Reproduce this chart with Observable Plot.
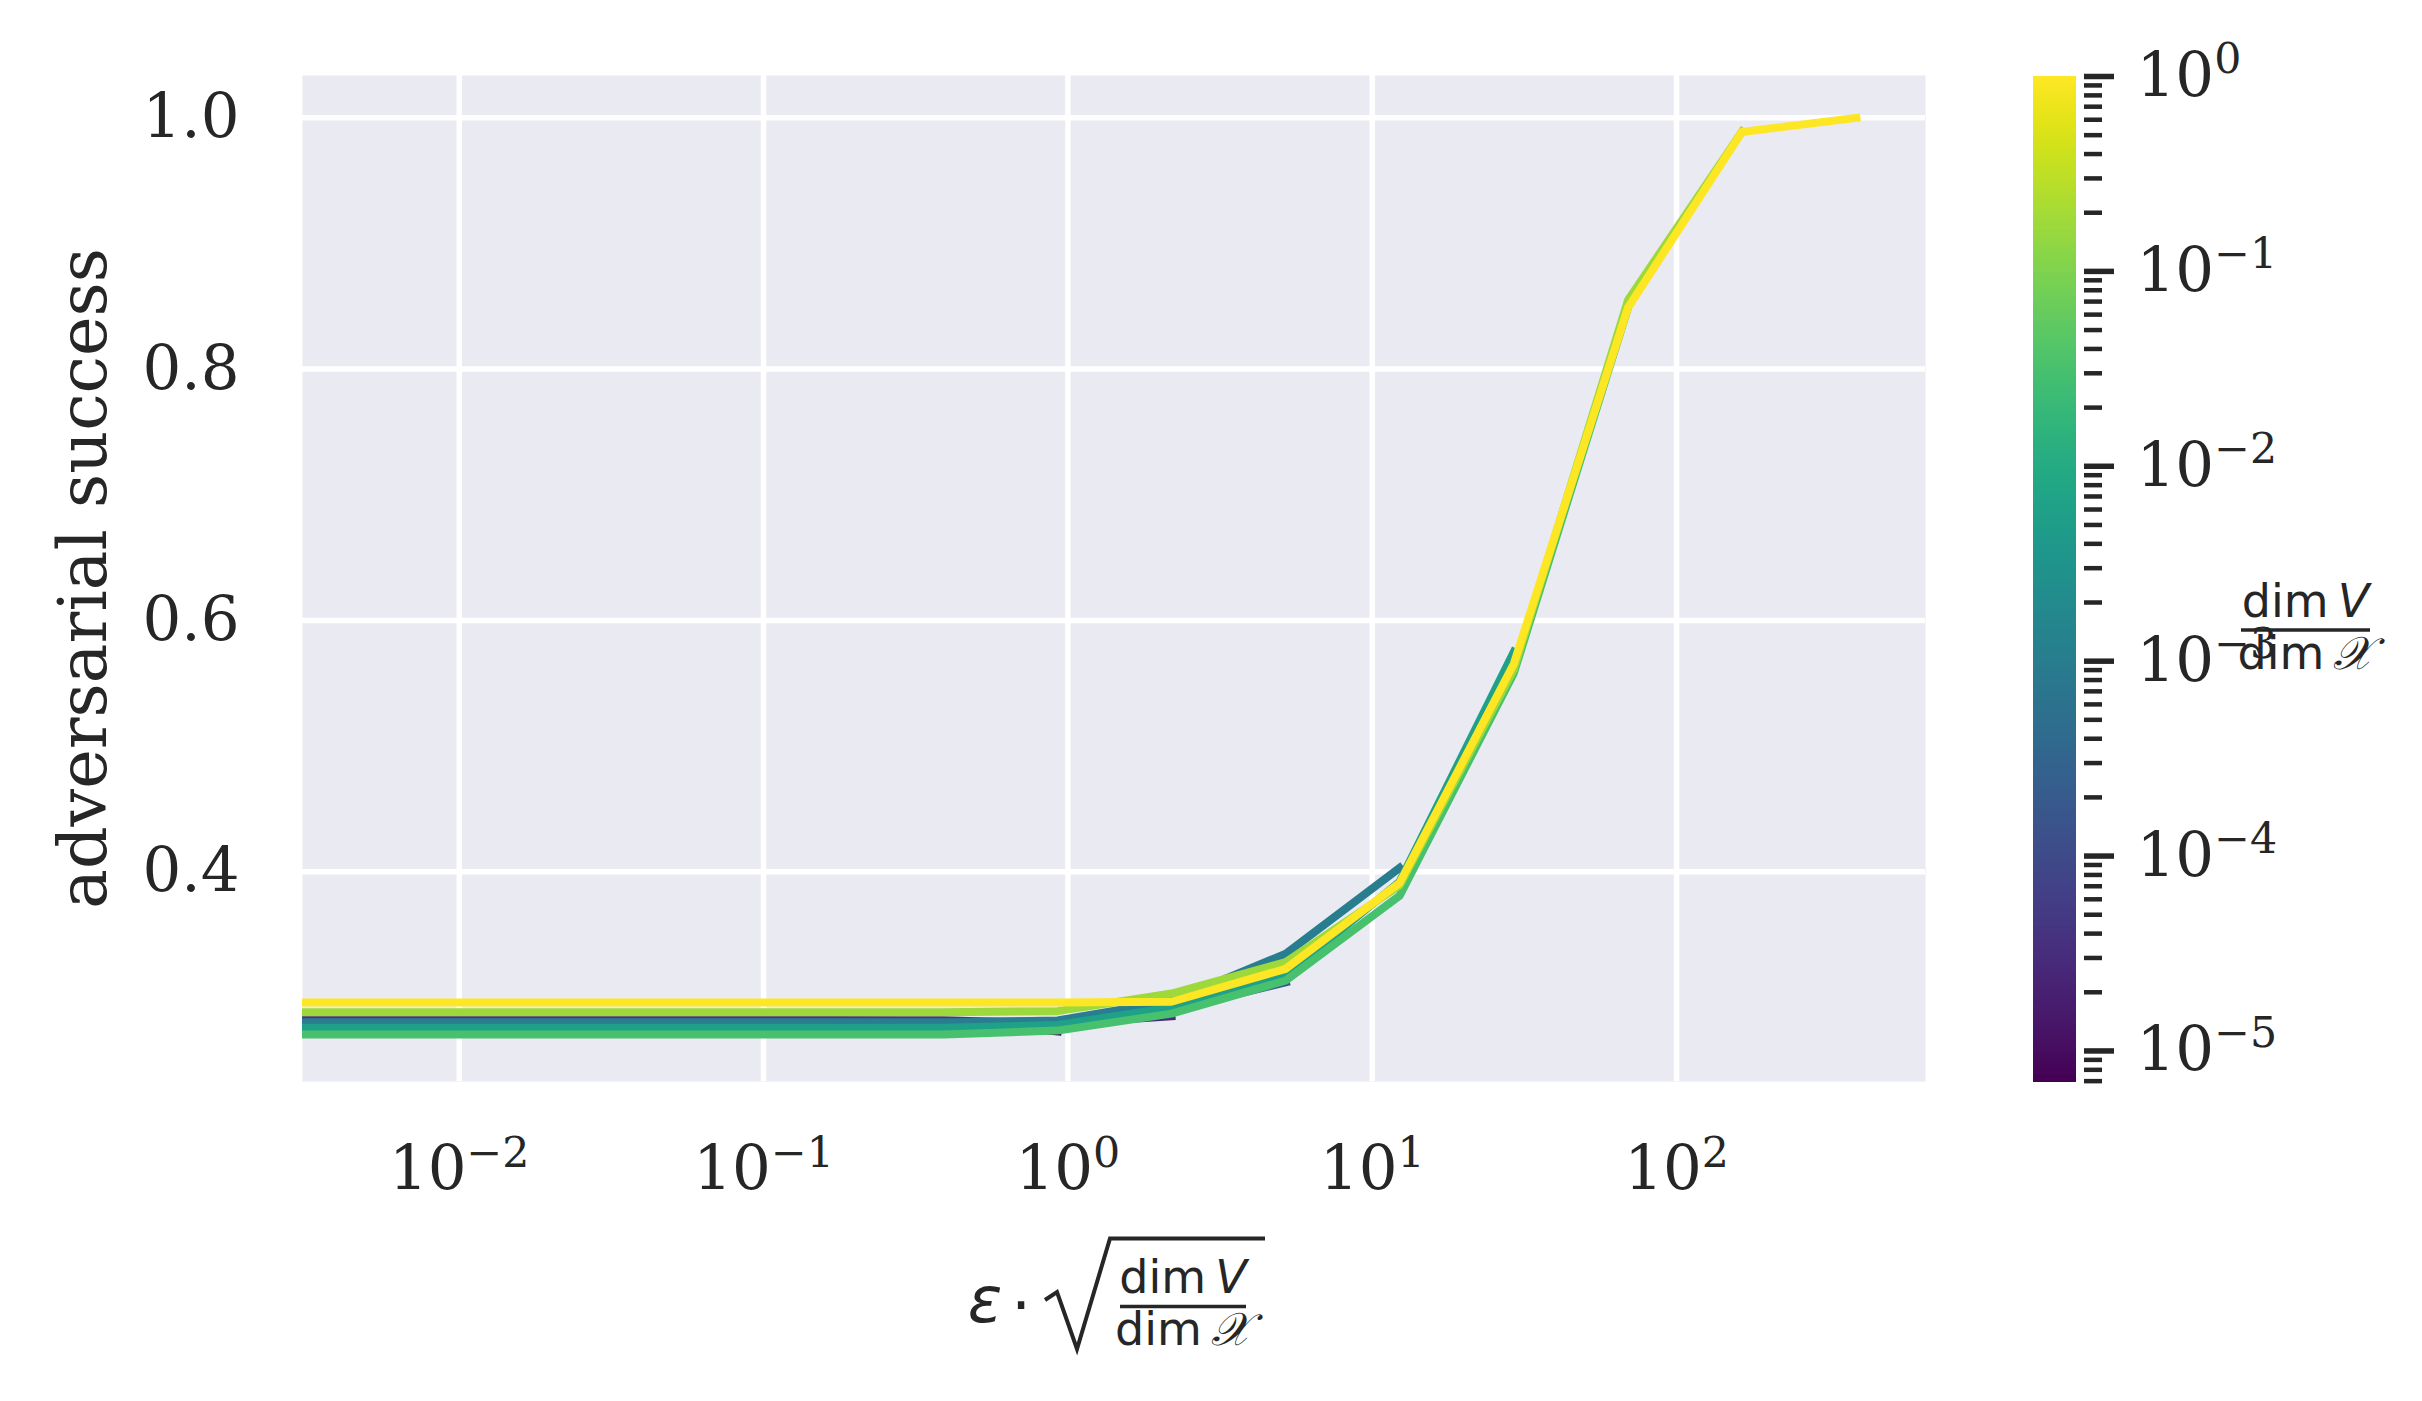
<!DOCTYPE html>
<html>
<head>
<meta charset="utf-8">
<script src="https://cdn.jsdelivr.net/npm/d3@7"></script>
<script src="https://cdn.jsdelivr.net/npm/@observablehq/plot@0.6"></script>
<style>
  body { margin: 0; background: #ffffff; }
  #wrap { position: relative; width: 2422px; height: 1401px; overflow: hidden; background: #ffffff; }
  #wrap > svg { position: absolute; top: 0; }
</style>
</head>
<body>
<div id="wrap"></div>
<script>
// ---------- data ----------
const epsilonX = [0.0009, 0.0052, 0.0123, 0.029, 0.069, 0.164, 0.39, 0.925, 2.19, 5.2, 12.3, 29.2, 69.3, 164, 390];
const ratioValues = [7e-6, 3.16e-5, 1.78e-4, 0.001, 0.00562, 0.0316, 0.178, 1];
const successR7e6   = [0.2816, 0.2816, 0.2816, 0.2816, 0.2816, 0.2815, 0.281, 0.2728, null, null, null, null, null, null, null];
const successR3e5   = [0.2818, 0.2818, 0.2818, 0.2818, 0.2818, 0.2818, 0.2818, 0.279, 0.285, null, null, null, null, null, null];
const successR2e4   = [0.2805, 0.2805, 0.2805, 0.2805, 0.2805, 0.2805, 0.2805, 0.281, 0.29, 0.312, null, null, null, null, null];
const successR1e3   = [0.2800, 0.2800, 0.2800, 0.2800, 0.2800, 0.2800, 0.2800, 0.2815, 0.297, 0.3347, 0.403, null, null, null, null];
const successR6e3   = [0.2757, 0.2757, 0.2757, 0.2757, 0.2757, 0.2757, 0.2757, 0.278, 0.292, 0.3174, 0.392, 0.575, null, null, null];
const successR3e2   = [0.2704, 0.2704, 0.2704, 0.2704, 0.2704, 0.2704, 0.2704, 0.2735, 0.287, 0.3134, 0.3808, 0.558, 0.849, null, null];
const successR2e1   = [0.2882, 0.2882, 0.2882, 0.2882, 0.2882, 0.2882, 0.2882, 0.289, 0.303, 0.328, 0.389, 0.561, 0.855, 0.989, null];
const successR1     = [0.2958, 0.2958, 0.2958, 0.2958, 0.2958, 0.2958, 0.2958, 0.2958, 0.2965, 0.3227, 0.391, 0.5655, 0.849, 0.9887, 1.0];
const xTicks = [0.01, 0.1, 1, 10, 100];
const yTicks = [0.4, 0.6, 0.8, 1.0];
const cbMajorTicks = [1e-5, 1e-4, 1e-3, 1e-2, 1e-1, 1];
const cbDomain = [6.97e-6, 1];
const xDomain = [0.003055, 657.7];
const yDomain = [0.233, 1.0337];
const yLabel = "adversarial success";

// ---------- build table ----------
const seriesY = [successR7e6, successR3e5, successR2e4, successR1e3, successR6e3, successR3e2, successR2e1, successR1];
const table = [];
seriesY.forEach((ys, i) => ys.forEach((v, j) => {
  if (v != null) table.push({eps: epsilonX[j], success: v, ratio: ratioValues[i]});
}));

const ink = "#262626";
const serif = "DejaVu Serif";
const sans = "DejaVu Sans";

function supify(svg, selector, raise) {
  d3.select(svg).selectAll(selector).each(function () {
    const t = this.textContent;
    if (!t.includes("^")) return;
    const [b, e] = t.split("^");
    const sel = d3.select(this);
    sel.text(null);
    sel.append("tspan").text(b);
    sel.append("tspan").attr("dy", -raise).attr("font-size", "0.7em").text(e.replace("-", "\u2212"));
  });
}
const expFormat = d => `10^${Math.round(Math.log10(d))}`;

// ---------- main chart ----------
const main = Plot.plot({
  width: 2000, height: 1401,
  marginLeft: 302, marginRight: 75, marginTop: 75, marginBottom: 320,
  x: {type: "log", domain: xDomain},
  y: {domain: yDomain},
  color: {type: "log", scheme: "viridis", domain: cbDomain},
  style: {fontFamily: serif, fontSize: "61px", color: ink, background: "transparent"},
  marks: [
    Plot.frame({fill: "#eaeaf2", stroke: "none"}),
    Plot.gridX(xTicks, {stroke: "white", strokeOpacity: 1, strokeWidth: 5.5}),
    Plot.gridY(yTicks, {stroke: "white", strokeOpacity: 1, strokeWidth: 5.5}),
    Plot.line(table, {x: "eps", y: "success", z: "ratio", stroke: "ratio", strokeWidth: 8,
      strokeLinejoin: "round", strokeLinecap: "square", clip: true}),
    Plot.axisX(xTicks, {tickSize: 0, tickPadding: 64, tickFormat: expFormat, label: null, fontSize: 61}),
    Plot.axisY(yTicks, {tickSize: 0, tickPadding: 63, tickFormat: d3.format(".1f"), label: null, fontSize: 61}),
    Plot.text([yLabel], {frameAnchor: "left", rotate: -90, dx: -197, lineAnchor: "bottom", textAnchor: "middle",
      text: d => d, fontSize: 66.7, fill: ink})
  ]
});
supify(main, 'g[aria-label="x-axis tick label"] text', 22);
main.style.left = "0px";
document.getElementById("wrap").appendChild(main);

// ---------- colorbar ----------
const cbLo = Math.log10(cbDomain[0]), cbHi = Math.log10(cbDomain[1]);
const N = 400;
const slices = d3.range(N).map(i => ({
  y1: 10 ** (cbLo + (cbHi - cbLo) * i / N),
  y2: 10 ** (cbLo + (cbHi - cbLo) * (i + 1) / N),
  v: 10 ** (cbLo + (cbHi - cbLo) * (i + 0.5) / N)
}));
const cbMinorTicks = [];
for (let k = -6; k <= -1; k++) for (let m = 2; m <= 9; m++) {
  const v = m * 10 ** k;
  if (v >= cbDomain[0] && v <= cbDomain[1]) cbMinorTicks.push(v);
}
const cbar = Plot.plot({
  width: 422, height: 1401,
  marginLeft: 33, marginRight: 346, marginTop: 76, marginBottom: 320,
  x: {domain: [0, 1], axis: null},
  y: {type: "log", domain: cbDomain, axis: null},
  color: {type: "log", scheme: "viridis", domain: cbDomain},
  style: {fontFamily: serif, fontSize: "61px", color: ink, background: "transparent"},
  marks: [
    Plot.rect(slices, {x1: () => 0, x2: () => 1, y1: "y1", y2: "y2", fill: "v", insetTop: -0.5, insetBottom: -0.5, shapeRendering: "crispEdges"}),
    Plot.axisY(cbMinorTicks, {anchor: "right", tickSize: 18, strokeWidth: 4.5, dx: 7, tickFormat: () => "", label: null}),
    Plot.axisY(cbMajorTicks, {anchor: "right", tickSize: 30, strokeWidth: 5.5, dx: 7, tickPadding: 23, tickFormat: expFormat, label: null, fontSize: 61})
  ]
});
supify(cbar, 'g[aria-label="y-axis tick label"] text', 23);
cbar.style.left = "2000px";
document.getElementById("wrap").appendChild(cbar);

// ---------- math labels overlay ----------
const ov = d3.create("svg").attr("width", 2422).attr("height", 1401)
  .style("left", "0px").style("pointer-events", "none")
  .attr("font-family", sans).attr("fill", ink);

function fraction(g, cx, barY, x1, x2) {
  const num = g.append("text").attr("x", cx).attr("y", barY - 13.5).attr("text-anchor", "middle").attr("font-size", 46);
  num.append("tspan").text("dim\u2009");
  num.append("tspan").attr("font-style", "italic").text("V");
  g.append("line").attr("x1", x1).attr("x2", x2).attr("y1", barY).attr("y2", barY).attr("stroke", ink).attr("stroke-width", 3.3);
  const den = g.append("text").attr("x", cx).attr("y", barY + 38.5).attr("text-anchor", "middle").attr("font-size", 46);
  den.append("tspan").text("dim\u2009");
  den.append("tspan").attr("font-style", "italic").text("\u{1D4B3}");
}
// x-axis label: ε · sqrt(dim V / dim X)
const xl = ov.append("g");
xl.append("text").attr("x", 985).attr("y", 1322).attr("text-anchor", "middle").attr("font-size", 64).attr("font-style", "italic").text("\u03B5");
xl.append("text").attr("x", 1021).attr("y", 1327).attr("text-anchor", "middle").attr("font-size", 62).text("\u00B7");
xl.append("path").attr("d", "M1045,1300 L1057,1292 L1077,1349 L1110,1238.5 L1265,1238.5")
  .attr("fill", "none").attr("stroke", ink).attr("stroke-width", 4).attr("stroke-linejoin", "miter");
fraction(xl, 1183, 1306.5, 1120, 1246);
// colorbar label
fraction(ov.append("g"), 2305.5, 630, 2241, 2370);

document.getElementById("wrap").appendChild(ov.node());
</script>
</body>
</html>
